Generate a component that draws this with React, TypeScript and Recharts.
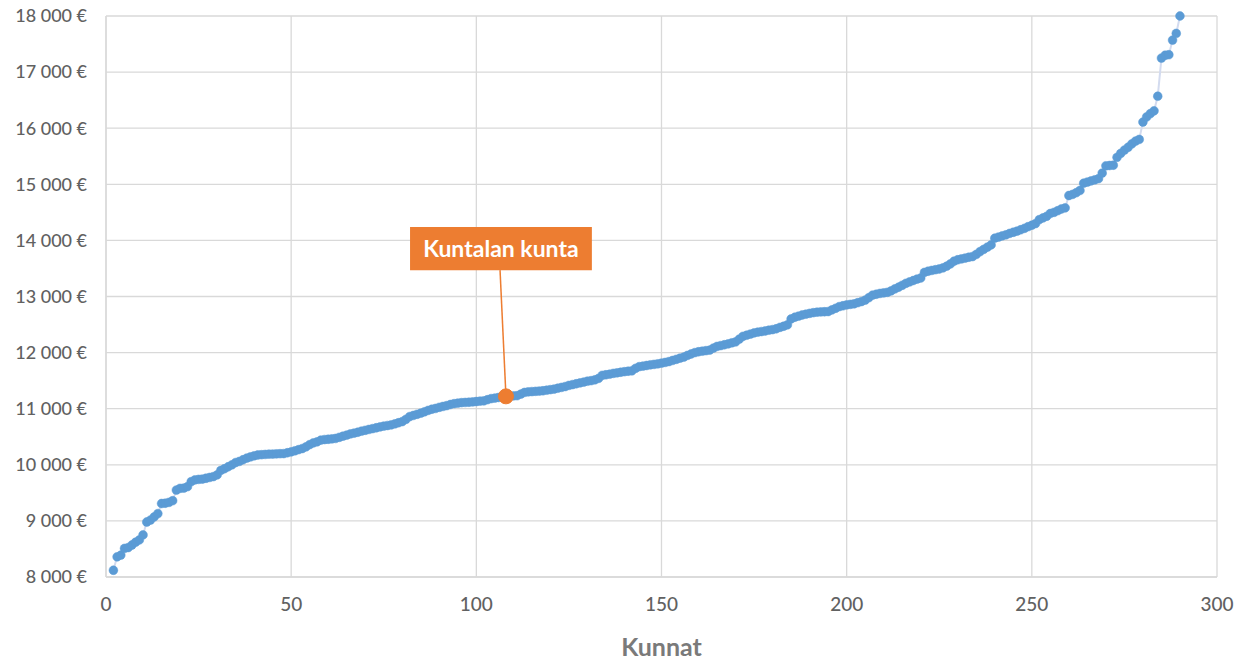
import React from "react";
import {
  LineChart, Line, XAxis, YAxis, CartesianGrid, ReferenceArea, ReferenceLine, ReferenceDot,
} from "recharts";

// Kunnat järjestettynä (x = järjestysnumero), arvo €/asukas
const firstRank = 2;
const values = [
  8120, 8360, 8390, 8510, 8525, 8570, 8620, 8660, 8750,
  8980, 9015, 9070, 9130, 9310, 9315, 9330, 9360, 9550, 9580,
  9585, 9610, 9700, 9730, 9740, 9745, 9760, 9775, 9790, 9820,
  9900, 9930, 9965, 10000, 10040, 10060, 10090, 10120, 10140, 10160,
  10175, 10180, 10185, 10190, 10192, 10195, 10198, 10200, 10215, 10230,
  10250, 10270, 10290, 10320, 10360, 10390, 10410, 10440, 10450, 10455,
  10462, 10470, 10490, 10510, 10530, 10550, 10565, 10580, 10600, 10615,
  10630, 10645, 10660, 10675, 10690, 10700, 10710, 10730, 10750, 10770,
  10810, 10860, 10880, 10900, 10920, 10945, 10970, 10990, 11005, 11025,
  11040, 11055, 11075, 11090, 11100, 11108, 11112, 11115, 11120, 11128,
  11135, 11140, 11160, 11180, 11190, 11200, 11210, 11220, 11225, 11228,
  11232, 11260, 11290, 11300, 11305, 11310, 11315, 11320, 11330, 11340,
  11350, 11365, 11380, 11395, 11415, 11430, 11445, 11460, 11475, 11490,
  11500, 11515, 11540, 11595, 11605, 11615, 11630, 11640, 11650, 11660,
  11668, 11675, 11720, 11750, 11760, 11770, 11782, 11790, 11800, 11812,
  11825, 11840, 11860, 11880, 11900, 11920, 11950, 11975, 12000, 12015,
  12025, 12035, 12045, 12080, 12110, 12125, 12140, 12155, 12175, 12190,
  12240, 12290, 12310, 12330, 12350, 12365, 12375, 12385, 12400, 12410,
  12425, 12450, 12470, 12495, 12600, 12630, 12650, 12670, 12685, 12700,
  12712, 12720, 12725, 12728, 12732, 12760, 12790, 12820, 12835, 12850,
  12860, 12870, 12890, 12910, 12935, 12980, 13025, 13040, 13055, 13065,
  13075, 13100, 13135, 13165, 13200, 13235, 13260, 13285, 13310, 13330,
  13430, 13450, 13465, 13478, 13490, 13510, 13540, 13580, 13630, 13655,
  13670, 13685, 13700, 13712, 13750, 13800, 13840, 13880, 13920, 14040,
  14060, 14080, 14100, 14125, 14145, 14165, 14190, 14215, 14245, 14270,
  14300, 14370, 14400, 14430, 14480, 14500, 14530, 14560, 14580, 14800,
  14820, 14850, 14890, 15020, 15040, 15060, 15080, 15100, 15200, 15330,
  15335, 15340, 15480, 15550, 15610, 15660, 15720, 15770, 15800, 16110,
  16200, 16260, 16310, 16570, 17250, 17300, 17310, 17570, 17690, 18000,
];

const xTicks = [0, 50, 100, 150, 200, 250, 300];
const yTicks = [8000, 9000, 10000, 11000, 12000, 13000, 14000, 15000, 16000, 17000, 18000];

// Korostettu kunta
const highlightRank = 108;
const highlightLabel = "Kuntalan kunta";
const labelBox = { x1: 82.1, x2: 131.2, y1: 13470, y2: 14240 };
const leaderStartX = 106.4;

const data = values.map((v, i) => ({ x: firstRank + i, y: v }));
const highlightValue = values[highlightRank - firstRank];

const tickStyle = { fontSize: 18, fill: "#616161", fontFamily: "Lato", fontWeight: 500 };

export default function App() {
  return (
    <div style={{ position: "absolute", left: 0, top: 0, width: 1241, height: 661, background: "white" }}>
      <LineChart width={1241} height={661} data={data}
        margin={{ top: 16, right: 24, bottom: 0, left: 0 }}
        style={{ fontFamily: "Lato" }}>
        <CartesianGrid stroke="#d9d9d9" strokeWidth={1.3} />
        <XAxis type="number" dataKey="x" domain={[0, 300]} ticks={xTicks} interval={0}
          height={84} tickSize={0} tickMargin={21} stroke="#d9d9d9" strokeWidth={1.3}
          tick={{ ...tickStyle, fontSize: 19 }}
          label={{ value: "Kunnat", position: "insideBottom", offset: 5, fontSize: 25, fontWeight: 700, fill: "#7a7a7a", fontFamily: "Lato" }} />
        <YAxis type="number" domain={[8000, 18000]} ticks={yTicks} interval={0}
          width={106} tickSize={0} tickMargin={19} stroke="#d9d9d9" strokeWidth={1.3}
          tick={tickStyle}
          tickFormatter={(v) => `${Math.round(v / 1000)} 000 €`} />
        <ReferenceArea x1={labelBox.x1} x2={labelBox.x2} y1={labelBox.y1} y2={labelBox.y2}
          fill="#ed7d31" fillOpacity={1} stroke="none"
          label={{ value: highlightLabel, position: "center", fill: "#ffffff", fontSize: 23, fontWeight: 700, fontFamily: "Lato" }} />
        <ReferenceLine segment={[{ x: leaderStartX, y: labelBox.y1 }, { x: highlightRank, y: highlightValue }]}
          stroke="#ed7d31" strokeWidth={1.5} />
        <Line type="linear" dataKey="y" stroke="#d3dbef" strokeWidth={2}
          dot={{ r: 4.4, fill: "#5b9bd5", stroke: "#5b9bd5", strokeWidth: 0.5 }}
          activeDot={false} isAnimationActive={false} />
        <ReferenceDot x={highlightRank} y={highlightValue} r={7.5} fill="#ed7d31" stroke="#ed7d31" />
      </LineChart>
    </div>
  );
}
